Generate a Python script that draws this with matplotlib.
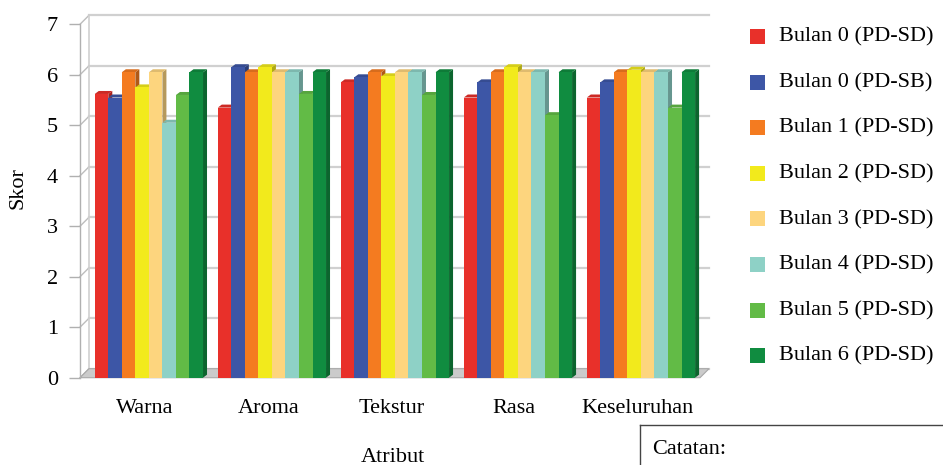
import matplotlib
matplotlib.use("Agg")
import matplotlib.pyplot as plt
from matplotlib.patches import Polygon, Rectangle
from matplotlib.lines import Line2D
import matplotlib.colors as mcolors
import numpy as np

plt.rcParams['font.family'] = ['Liberation Serif', 'DejaVu Serif']
FS = 16

# data
atribut = ["Warna", "Aroma", "Tekstur", "Rasa", "Keseluruhan"]
seri = ["Bulan 0 (PD-SD)", "Bulan 0 (PD-SB)", "Bulan 1 (PD-SD)", "Bulan 2 (PD-SD)",
        "Bulan 3 (PD-SD)", "Bulan 4 (PD-SD)", "Bulan 5 (PD-SD)", "Bulan 6 (PD-SD)"]
b0_sd = [5.62, 5.35, 5.85, 5.55, 5.55]
b0_sb = [5.55, 6.15, 5.95, 5.85, 5.85]
b1 = [6.05, 6.05, 6.05, 6.05, 6.05]
b2 = [5.75, 6.15, 5.97, 6.15, 6.10]
b3 = [6.05, 6.05, 6.05, 6.05, 6.05]
b4 = [5.05, 6.05, 6.05, 6.05, 6.05]
b5 = [5.60, 5.62, 5.60, 5.20, 5.35]
b6 = [6.05, 6.05, 6.05, 6.05, 6.05]
nilai = [b0_sd, b0_sb, b1, b2, b3, b4, b5, b6]
warna = ['#e8302a', '#3d56a6', '#f47b20', '#f2ea1c',
         '#fdd57e', '#8ed1c6', '#62bb46', '#108c40']

fig = plt.figure(figsize=(9.43, 4.65), dpi=100)
W, H = 943, 465
ax = fig.add_axes([80 / W, 1 - 377.7 / H, 620 / W, 353.4 / H])
xmin, xmax = -0.56, 4.48
ax.set_xlim(xmin, xmax)
ax.set_ylim(0, 7)

# pixel -> data units
ux = (xmax - xmin) / 620.0
uy = 7 / 353.4
wall_dx, wall_dy = 9 * ux, 9 * uy
bar_dx, bar_dy = 4 * ux, 3 * uy

# back wall gridlines + side wall
for v in range(8):
    ax.plot([xmin + wall_dx, xmax + wall_dx], [v + wall_dy, v + wall_dy],
            color='#d0d0d0', lw=1.6, clip_on=False, zorder=1)
    ax.plot([xmin, xmin + wall_dx], [v, v + wall_dy], color='#bdbdbd', lw=1.0,
            clip_on=False, zorder=1)
ax.plot([xmin + wall_dx, xmin + wall_dx], [wall_dy, 7 + wall_dy], color='#d0d0d0',
        lw=1.2, clip_on=False, zorder=1)

# floor
floor = Polygon([[xmin, 0], [xmax, 0], [xmax + wall_dx, wall_dy], [xmin + wall_dx, wall_dy]],
                closed=True, facecolor='#cbcbcb', edgecolor='#a8a8a8', lw=0.8,
                clip_on=False, zorder=2)
ax.add_patch(floor)

x = np.arange(len(atribut))
n = len(seri)
bw = 0.11
z = 3
for j in range(len(atribut)):
    for i in range(n):
        h = nilai[i][j]
        x0 = x[j] - n * bw / 2 + i * bw
        c = np.array(mcolors.to_rgb(warna[i]))
        side = Polygon([[x0 + bw, 0], [x0 + bw + bar_dx, bar_dy],
                        [x0 + bw + bar_dx, h + bar_dy], [x0 + bw, h]],
                       closed=True, facecolor=c * 0.72, edgecolor='none',
                       clip_on=False, zorder=z)
        top = Polygon([[x0, h], [x0 + bw, h], [x0 + bw + bar_dx, h + bar_dy],
                       [x0 + bar_dx, h + bar_dy]],
                      closed=True, facecolor=c * 0.88, edgecolor='none',
                      clip_on=False, zorder=z)
        ax.add_patch(side)
        ax.add_patch(top)
        ax.bar(x0, h, width=bw, align='edge', color=warna[i], edgecolor='none',
               zorder=z + 1, clip_on=False)
        z += 2

ax.set_xticks(x - 0.03)
ax.set_xticklabels(atribut, fontsize=FS)
ax.tick_params(axis='x', length=0, pad=15)
ax.set_yticks(range(8))
ax.tick_params(axis='y', length=8, width=1.0, color='#b0b0b0', labelsize=FS, pad=8)
for s in ['top', 'right', 'bottom']:
    ax.spines[s].set_visible(False)
ax.spines['left'].set_color('#b0b0b0')
ax.spines['left'].set_linewidth(1.0)
ax.set_facecolor('none')

fig.text(18 / W, 1 - 188 / H, "Skor", rotation=90, ha='center', va='center', fontsize=FS)
fig.text(393 / W, 1 - 457 / H, "Atribut", ha='center', va='center', fontsize=FS)

# legend
for i, s in enumerate(seri):
    yc = 37 + i * 45.6
    fig.add_artist(Rectangle((750 / W, 1 - (yc + 7) / H), 15 / W, 15 / H,
                             transform=fig.transFigure, facecolor=warna[i],
                             edgecolor='none'))
    fig.text(779 / W, 1 - yc / H, s, ha='left', va='center', fontsize=FS)

# catatan box
fig.add_artist(Line2D([640 / W, 1.0], [1 - 425 / H, 1 - 425 / H],
                      transform=fig.transFigure, color='#444444', lw=1.0))
fig.add_artist(Line2D([640 / W, 640 / W], [1 - 425 / H, 0.0],
                      transform=fig.transFigure, color='#444444', lw=1.0))
fig.text(652 / W, 1 - 449 / H, "Catatan:", ha='left', va='center', fontsize=FS)

fig.savefig("out.png", dpi=100)
